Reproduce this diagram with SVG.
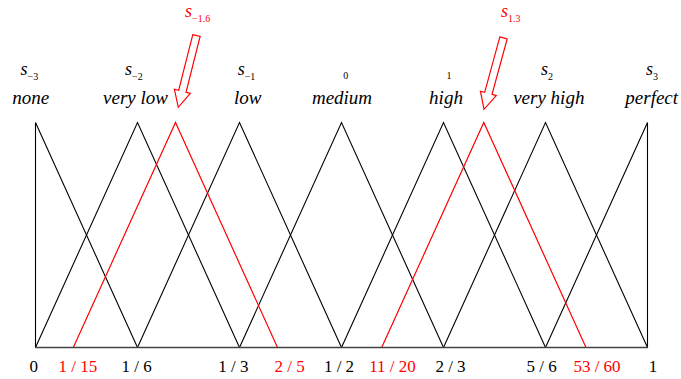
<svg xmlns="http://www.w3.org/2000/svg" width="681" height="379" viewBox="0 0 681 379">
<defs>
<polygon id="arrow" points="-3.8,-74 3.8,-74 3.8,-16.5 8.2,-16.5 0,0 -8.2,-16.5 -3.8,-16.5" fill="#fff" stroke="#f00" stroke-width="1.2"/>
</defs>
<g id="connectors" fill="none">
<g stroke="#000" stroke-width="1.1">
<path d="M35.5,347.5 V122.5 L137.5,347.5"/>
<path d="M35.5,347.5 L137.5,122.5 L239.5,347.5"/>
<path d="M137.5,347.5 L239.5,122.5 L341.5,347.5"/>
<path d="M239.5,347.5 L341.5,122.5 L443.5,347.5"/>
<path d="M341.5,347.5 L443.5,122.5 L545.5,347.5"/>
<path d="M443.5,347.5 L545.5,122.5 L647.5,347.5"/>
<path d="M545.5,347.5 L647.5,122.5 V347.5"/>
</g>
<g stroke="#f00" stroke-width="1.2">
<path d="M73.3,347.5 L175.5,122.5 L277.5,347.5"/>
<path d="M381.7,347.5 L483.8,122.5 L586,347.5"/>
</g>
<line x1="35" y1="347.5" x2="648" y2="347.5" stroke="#444" stroke-width="1.6"/>
</g>
<g id="arrow-m16"><use href="#arrow" transform="translate(178.3,107.3) rotate(14.2)"/>
<text x="185" y="17" font-family="Liberation Serif" font-style="italic" font-size="18" fill="#f00">s<tspan font-style="normal" font-size="10" dy="4.5">−1.6</tspan></text></g>
<g id="arrow-13"><use href="#arrow" transform="translate(484,109.3) rotate(15.3)"/>
<text x="501" y="17" font-family="Liberation Serif" font-style="italic" font-size="18" fill="#f00">s<tspan font-style="normal" font-size="10" dy="4.5">1.3</tspan></text></g>
<g id="labels-top">
<text x="20.5" y="75" font-family="Liberation Serif" font-style="italic" font-size="18">s<tspan font-style="normal" font-size="10" dy="4.5">−3</tspan></text>
<text x="125" y="75" font-family="Liberation Serif" font-style="italic" font-size="18">s<tspan font-style="normal" font-size="10" dy="4.5">−2</tspan></text>
<text x="237.7" y="75" font-family="Liberation Serif" font-style="italic" font-size="18">s<tspan font-style="normal" font-size="10" dy="4.5">−1</tspan></text>
<text x="343.3" y="79" font-family="Liberation Serif" font-size="10">0</text>
<text x="446.5" y="79" font-family="Liberation Serif" font-size="10">1</text>
<text x="541" y="75" font-family="Liberation Serif" font-style="italic" font-size="18">s<tspan font-style="normal" font-size="10" dy="4.5">2</tspan></text>
<text x="646" y="75" font-family="Liberation Serif" font-style="italic" font-size="18">s<tspan font-style="normal" font-size="10" dy="4.5">3</tspan></text>
</g>
<g id="names" text-anchor="middle">
<text x="30.8" y="104" font-family="Liberation Serif" font-style="italic" font-size="19">none</text>
<text x="135.5" y="104" font-family="Liberation Serif" font-style="italic" font-size="19">very low</text>
<text x="247.8" y="104" font-family="Liberation Serif" font-style="italic" font-size="19">low</text>
<text x="342" y="104" font-family="Liberation Serif" font-style="italic" font-size="19">medium</text>
<text x="446" y="104" font-family="Liberation Serif" font-style="italic" font-size="19">high</text>
<text x="548.8" y="104" font-family="Liberation Serif" font-style="italic" font-size="19">very high</text>
<text x="651.7" y="104" font-family="Liberation Serif" font-style="italic" font-size="19">perfect</text>
</g>
<g id="axis-labels" text-anchor="middle">
<text x="33.8" y="371.7" font-family="Liberation Serif" font-size="17">0</text>
<text x="77.8" y="371.7" font-family="Liberation Serif" font-size="17" fill="#f00">1 / 15</text>
<text x="136.7" y="371.7" font-family="Liberation Serif" font-size="17">1 / 6</text>
<text x="233.3" y="371.7" font-family="Liberation Serif" font-size="17">1 / 3</text>
<text x="289.7" y="371.7" font-family="Liberation Serif" font-size="17" fill="#f00">2 / 5</text>
<text x="339" y="371.7" font-family="Liberation Serif" font-size="17">1 / 2</text>
<text x="392.5" y="371.7" font-family="Liberation Serif" font-size="17" fill="#f00">11 / 20</text>
<text x="450.5" y="371.7" font-family="Liberation Serif" font-size="17">2 / 3</text>
<text x="541.7" y="371.7" font-family="Liberation Serif" font-size="17">5 / 6</text>
<text x="597" y="371.7" font-family="Liberation Serif" font-size="17" fill="#f00">53 / 60</text>
<text x="653" y="371.7" font-family="Liberation Serif" font-size="17">1</text>
</g>
</svg>
